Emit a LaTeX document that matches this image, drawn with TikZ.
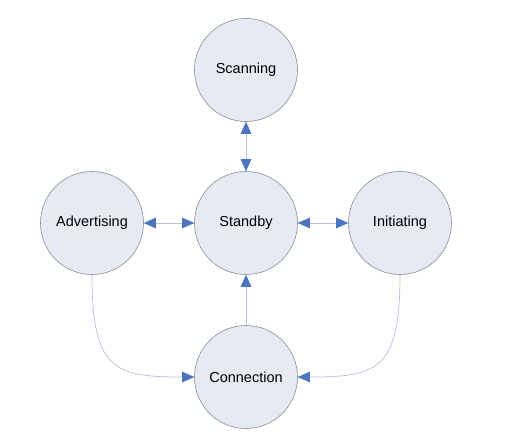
\documentclass[tikz,border=0pt]{standalone}
\usepackage{fontspec}
\setmainfont{Liberation Sans}
\usetikzlibrary{arrows.meta}
\definecolor{statefill}{HTML}{E6EAF4}
\definecolor{stateline}{HTML}{8E8E8E}
\definecolor{tipblue}{HTML}{4A74C0}
\definecolor{conn}{HTML}{B8C0D8}
\begin{document}
\begin{tikzpicture}[x=1pt,y=-1pt,
  state/.style={circle,draw=stateline,fill=statefill,line width=0.6pt,minimum size=103pt,inner sep=0pt,font=\fontsize{14.5}{16}\selectfont},
  link/.style={draw=conn,line width=0.7pt},
  both/.style={link,{Triangle[length=12pt,width=10.5pt,color=tipblue]}-{Triangle[length=12pt,width=10.5pt,color=tipblue]}},
  one/.style={link,-{Triangle[length=12pt,width=10.5pt,color=tipblue]}}]
\useasboundingbox (0,0) rectangle (512,440);
\node[state] (scan) at (246,70) {Scanning};
\node[state] (stby) at (246,223) {Standby};
\node[state] (adv) at (92,223) {Advertising};
\node[state] (init) at (400,223) {Initiating};
\node[state] (con) at (246,377) {Connection};
\draw[both] (stby.north) -- (scan.south);
\draw[both] (adv.east) -- (stby.west);
\draw[both] (stby.east) -- (init.west);
\draw[one] (con.north) -- (stby.south);
\draw[one] (adv.south) .. controls +(0,95) and +(-80,0) .. (con.west);
\draw[one] (init.south) .. controls +(0,95) and +(80,0) .. (con.east);
\end{tikzpicture}
\end{document}
